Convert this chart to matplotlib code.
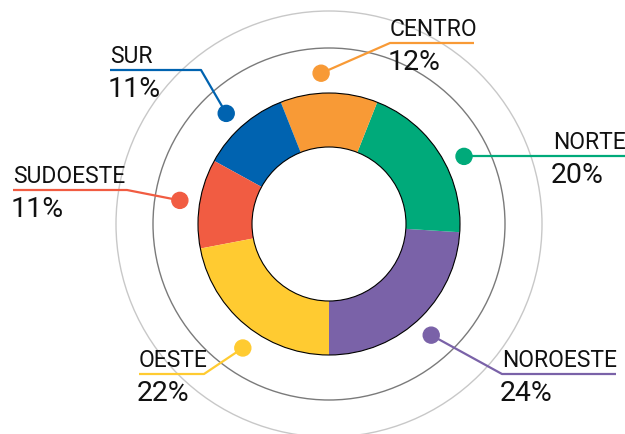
import matplotlib
matplotlib.use('Agg')
import matplotlib.pyplot as plt
import matplotlib.patches as mpl_patches
import numpy as np

plt.rcParams['font.family'] = ['Roboto', 'DejaVu Sans']

regions = ['NOROESTE', 'NORTE', 'CENTRO', 'SUR', 'SUDOESTE', 'OESTE']
shares = [24, 20, 12, 11, 11, 22]
colors = ['#7A62A8', '#00AA7A', '#F89A36', '#0063B0', '#F15C42', '#FFCB31']

W, H = 625, 434
cx, cy = 329, H - 224
r_out, r_in = 131, 77
r_dot = 151

# label layout in pixels (y from top): angle tweak, elbow, line end x, text x
layout = {
    'NOROESTE': dict(dang=-0.6, elbow=(502, 374), end=616, tx=502),
    'NORTE': dict(dang=-5.8, elbow=None, end=625, tx=553),
    'CENTRO': dict(dang=3.0, elbow=(390, 43), end=474, tx=390),
    'SUR': dict(dang=1.5, elbow=(201, 70), end=110, tx=110),
    'SUDOESTE': dict(dang=0.0, elbow=(127, 190), end=13, tx=13),
    'OESTE': dict(dang=4.8, elbow=(204, 374), end=139, tx=139),
}

fig = plt.figure(figsize=(W / 100, H / 100), dpi=100)
ax = fig.add_axes([0, 0, 1, 1])

ax.pie(shares, colors=colors, startangle=270, counterclock=True,
       radius=r_out, center=(cx, cy),
       wedgeprops=dict(width=r_out - r_in, linewidth=0))

ax.add_patch(mpl_patches.Circle((cx, cy), 213, fill=False, ec='#c8c8c8', lw=1))
ax.add_patch(mpl_patches.Circle((cx, cy), 176, fill=False, ec='#7a7a7a', lw=1))
ax.add_patch(mpl_patches.Circle((cx, cy), r_out, fill=False, ec='black', lw=0.8))
ax.add_patch(mpl_patches.Circle((cx, cy), r_in, fill=False, ec='black', lw=0.8))

start = 270.0
for name, share, color in zip(regions, shares, colors):
    lay = layout[name]
    mid = np.radians(start + 1.8 * share + lay['dang'])
    start += 3.6 * share
    dx = cx + r_dot * np.cos(mid)
    dy = cy + r_dot * np.sin(mid)
    if lay['elbow'] is None:
        ex, ey = lay['end'], dy
        xs, ys = [dx, ex], [dy, ey]
        ly = dy
    else:
        ex, ey = lay['elbow'][0], H - lay['elbow'][1]
        xs, ys = [dx, ex, lay['end']], [dy, ey, ey]
        ly = ey
    ax.plot(xs, ys, color=color, lw=1.6, solid_capstyle='butt', zorder=3)
    ax.add_patch(mpl_patches.Circle((dx, dy), 8, color=color, zorder=4))
    ax.text(lay['tx'], ly + 7, name, fontsize=16.5, va='baseline', ha='left', color='#111111')
    ax.text(lay['tx'] - 2, ly - 27, f'{share}%', fontsize=20.5, va='baseline', ha='left', color='#111111')

ax.set_xlim(0, W)
ax.set_ylim(0, H)
ax.set_aspect('equal')
ax.axis('off')

plt.savefig('out.png', dpi=100)
